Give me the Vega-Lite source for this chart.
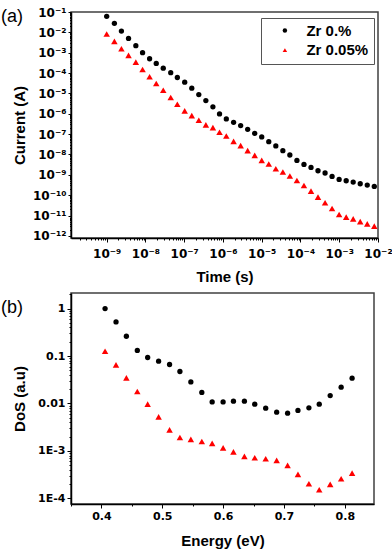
{
 "$schema": "https://vega.github.io/schema/vega-lite/v6.json",
 "padding": {"left": 0, "top": 5, "right": 0, "bottom": 0},
 "background": "white",
 "spacing": 2,
 "config": {
  "view": {"stroke": "#404040", "strokeWidth": 1.5},
  "axis": {"grid": false, "domainColor": "black", "domainWidth": 1.5, "tickColor": "black", "tickWidth": 1,
   "labelFont": "DejaVu Sans", "labelFontWeight": "bold", "labelFontSize": 11, "labelColor": "black",
   "titleFont": "Liberation Sans", "titleFontWeight": "bold", "titleFontSize": 15, "titleColor": "black",
   "labelOverlap": false, "labelFlush": false, "labelBound": false, "labelAngle": 0},
  "title": {"font": "Liberation Sans", "fontWeight": "normal", "fontSize": 18, "color": "black"}
 },
 "datasets": {
  "a": [
   {"t": 1.00e-9, "I": 6.14e-2, "series": "Zr 0.%"},
   {"t": 1.58e-9, "I": 2.77e-2, "series": "Zr 0.%"},
   {"t": 2.40e-9, "I": 1.16e-2, "series": "Zr 0.%"},
   {"t": 3.66e-9, "I": 5.06e-3, "series": "Zr 0.%"},
   {"t": 5.65e-9, "I": 2.21e-3, "series": "Zr 0.%"},
   {"t": 8.43e-9, "I": 1.00e-3, "series": "Zr 0.%"},
   {"t": 1.28e-8, "I": 5.06e-4, "series": "Zr 0.%"},
   {"t": 1.90e-8, "I": 2.97e-4, "series": "Zr 0.%"},
   {"t": 2.88e-8, "I": 1.74e-4, "series": "Zr 0.%"},
   {"t": 4.49e-8, "I": 1.04e-4, "series": "Zr 0.%"},
   {"t": 6.65e-8, "I": 6.07e-5, "series": "Zr 0.%"},
   {"t": 1.03e-7, "I": 3.56e-5, "series": "Zr 0.%"},
   {"t": 1.57e-7, "I": 1.80e-5, "series": "Zr 0.%"},
   {"t": 2.38e-7, "I": 8.83e-6, "series": "Zr 0.%"},
   {"t": 3.62e-7, "I": 4.47e-6, "series": "Zr 0.%"},
   {"t": 5.50e-7, "I": 2.19e-6, "series": "Zr 0.%"},
   {"t": 8.15e-7, "I": 9.89e-7, "series": "Zr 0.%"},
   {"t": 1.22e-6, "I": 5.61e-7, "series": "Zr 0.%"},
   {"t": 1.88e-6, "I": 3.81e-7, "series": "Zr 0.%"},
   {"t": 2.86e-6, "I": 2.62e-7, "series": "Zr 0.%"},
   {"t": 4.34e-6, "I": 1.72e-7, "series": "Zr 0.%"},
   {"t": 6.59e-6, "I": 1.09e-7, "series": "Zr 0.%"},
   {"t": 1.00e-5, "I": 7.28e-8, "series": "Zr 0.%"},
   {"t": 1.52e-5, "I": 4.28e-8, "series": "Zr 0.%"},
   {"t": 2.31e-5, "I": 2.62e-8, "series": "Zr 0.%"},
   {"t": 3.51e-5, "I": 1.54e-8, "series": "Zr 0.%"},
   {"t": 5.32e-5, "I": 9.44e-9, "series": "Zr 0.%"},
   {"t": 8.09e-5, "I": 5.12e-9, "series": "Zr 0.%"},
   {"t": 1.23e-4, "I": 3.25e-9, "series": "Zr 0.%"},
   {"t": 1.87e-4, "I": 2.32e-9, "series": "Zr 0.%"},
   {"t": 2.83e-4, "I": 1.59e-9, "series": "Zr 0.%"},
   {"t": 4.31e-4, "I": 1.23e-9, "series": "Zr 0.%"},
   {"t": 6.53e-4, "I": 8.34e-10, "series": "Zr 0.%"},
   {"t": 9.93e-4, "I": 5.93e-10, "series": "Zr 0.%"},
   {"t": 1.51e-3, "I": 5.12e-10, "series": "Zr 0.%"},
   {"t": 2.29e-3, "I": 4.42e-10, "series": "Zr 0.%"},
   {"t": 3.48e-3, "I": 3.65e-10, "series": "Zr 0.%"},
   {"t": 5.28e-3, "I": 3.15e-10, "series": "Zr 0.%"},
   {"t": 8.02e-3, "I": 2.69e-10, "series": "Zr 0.%"},
   {"t": 1.00e-9, "I": 8.24e-3, "series": "Zr 0.05%"},
   {"t": 1.58e-9, "I": 3.61e-3, "series": "Zr 0.05%"},
   {"t": 2.40e-9, "I": 1.57e-3, "series": "Zr 0.05%"},
   {"t": 3.66e-9, "I": 7.36e-4, "series": "Zr 0.05%"},
   {"t": 5.65e-9, "I": 3.44e-4, "series": "Zr 0.05%"},
   {"t": 8.43e-9, "I": 1.50e-4, "series": "Zr 0.05%"},
   {"t": 1.28e-8, "I": 6.58e-5, "series": "Zr 0.05%"},
   {"t": 1.90e-8, "I": 3.08e-5, "series": "Zr 0.05%"},
   {"t": 2.88e-8, "I": 1.44e-5, "series": "Zr 0.05%"},
   {"t": 4.49e-8, "I": 6.28e-6, "series": "Zr 0.05%"},
   {"t": 6.65e-8, "I": 2.94e-6, "series": "Zr 0.05%"},
   {"t": 1.03e-7, "I": 1.39e-6, "series": "Zr 0.05%"},
   {"t": 1.57e-7, "I": 8.15e-7, "series": "Zr 0.05%"},
   {"t": 2.38e-7, "I": 4.79e-7, "series": "Zr 0.05%"},
   {"t": 3.62e-7, "I": 2.84e-7, "series": "Zr 0.05%"},
   {"t": 5.50e-7, "I": 2.09e-7, "series": "Zr 0.05%"},
   {"t": 8.15e-7, "I": 1.23e-7, "series": "Zr 0.05%"},
   {"t": 1.22e-6, "I": 8.15e-8, "series": "Zr 0.05%"},
   {"t": 1.88e-6, "I": 4.42e-8, "series": "Zr 0.05%"},
   {"t": 2.86e-6, "I": 2.71e-8, "series": "Zr 0.05%"},
   {"t": 4.34e-6, "I": 1.54e-8, "series": "Zr 0.05%"},
   {"t": 6.59e-6, "I": 9.02e-9, "series": "Zr 0.05%"},
   {"t": 1.00e-5, "I": 5.12e-9, "series": "Zr 0.05%"},
   {"t": 1.52e-5, "I": 3.40e-9, "series": "Zr 0.05%"},
   {"t": 2.31e-5, "I": 2.00e-9, "series": "Zr 0.05%"},
   {"t": 3.51e-5, "I": 1.37e-9, "series": "Zr 0.05%"},
   {"t": 5.32e-5, "I": 8.73e-10, "series": "Zr 0.05%"},
   {"t": 8.09e-5, "I": 5.30e-10, "series": "Zr 0.05%"},
   {"t": 1.23e-4, "I": 3.01e-10, "series": "Zr 0.05%"},
   {"t": 1.87e-4, "I": 1.59e-10, "series": "Zr 0.05%"},
   {"t": 2.83e-4, "I": 8.05e-11, "series": "Zr 0.05%"},
   {"t": 4.31e-4, "I": 4.23e-11, "series": "Zr 0.05%"},
   {"t": 6.53e-4, "I": 2.21e-11, "series": "Zr 0.05%"},
   {"t": 9.93e-4, "I": 1.12e-11, "series": "Zr 0.05%"},
   {"t": 1.51e-3, "I": 8.34e-12, "series": "Zr 0.05%"},
   {"t": 2.29e-3, "I": 6.87e-12, "series": "Zr 0.05%"},
   {"t": 3.48e-3, "I": 5.06e-12, "series": "Zr 0.05%"},
   {"t": 5.28e-3, "I": 3.90e-12, "series": "Zr 0.05%"},
   {"t": 8.02e-3, "I": 3.01e-12, "series": "Zr 0.05%"}
  ],
  "b": [
   {"E": 0.406, "D": 1.0, "series": "Zr 0.%"},
   {"E": 0.424, "D": 0.522, "series": "Zr 0.%"},
   {"E": 0.441, "D": 0.261, "series": "Zr 0.%"},
   {"E": 0.459, "D": 0.131, "series": "Zr 0.%"},
   {"E": 0.476, "D": 0.093, "series": "Zr 0.%"},
   {"E": 0.494, "D": 0.0778, "series": "Zr 0.%"},
   {"E": 0.512, "D": 0.0662, "series": "Zr 0.%"},
   {"E": 0.529, "D": 0.0472, "series": "Zr 0.%"},
   {"E": 0.547, "D": 0.0285, "series": "Zr 0.%"},
   {"E": 0.565, "D": 0.0171, "series": "Zr 0.%"},
   {"E": 0.582, "D": 0.0108, "series": "Zr 0.%"},
   {"E": 0.600, "D": 0.0108, "series": "Zr 0.%"},
   {"E": 0.617, "D": 0.0112, "series": "Zr 0.%"},
   {"E": 0.635, "D": 0.0112, "series": "Zr 0.%"},
   {"E": 0.652, "D": 0.00966, "series": "Zr 0.%"},
   {"E": 0.670, "D": 0.00796, "series": "Zr 0.%"},
   {"E": 0.688, "D": 0.00656, "series": "Zr 0.%"},
   {"E": 0.706, "D": 0.00625, "series": "Zr 0.%"},
   {"E": 0.723, "D": 0.00713, "series": "Zr 0.%"},
   {"E": 0.741, "D": 0.00808, "series": "Zr 0.%"},
   {"E": 0.758, "D": 0.00966, "series": "Zr 0.%"},
   {"E": 0.776, "D": 0.0147, "series": "Zr 0.%"},
   {"E": 0.794, "D": 0.022, "series": "Zr 0.%"},
   {"E": 0.812, "D": 0.0341, "series": "Zr 0.%"},
   {"E": 0.406, "D": 0.126, "series": "Zr 0.05%"},
   {"E": 0.424, "D": 0.065, "series": "Zr 0.05%"},
   {"E": 0.441, "D": 0.0346, "series": "Zr 0.05%"},
   {"E": 0.459, "D": 0.0179, "series": "Zr 0.05%"},
   {"E": 0.476, "D": 0.00966, "series": "Zr 0.05%"},
   {"E": 0.494, "D": 0.00522, "series": "Zr 0.05%"},
   {"E": 0.512, "D": 0.00278, "series": "Zr 0.05%"},
   {"E": 0.529, "D": 0.00192, "series": "Zr 0.05%"},
   {"E": 0.547, "D": 0.00175, "series": "Zr 0.05%"},
   {"E": 0.565, "D": 0.00158, "series": "Zr 0.05%"},
   {"E": 0.582, "D": 0.00144, "series": "Zr 0.05%"},
   {"E": 0.600, "D": 0.00116, "series": "Zr 0.05%"},
   {"E": 0.617, "D": 0.000955, "series": "Zr 0.05%"},
   {"E": 0.635, "D": 0.000766, "series": "Zr 0.05%"},
   {"E": 0.652, "D": 0.000716, "series": "Zr 0.05%"},
   {"E": 0.670, "D": 0.000682, "series": "Zr 0.05%"},
   {"E": 0.688, "D": 0.000631, "series": "Zr 0.05%"},
   {"E": 0.706, "D": 0.000495, "series": "Zr 0.05%"},
   {"E": 0.723, "D": 0.00032, "series": "Zr 0.05%"},
   {"E": 0.741, "D": 0.000203, "series": "Zr 0.05%"},
   {"E": 0.758, "D": 0.000152, "series": "Zr 0.05%"},
   {"E": 0.776, "D": 0.000197, "series": "Zr 0.05%"},
   {"E": 0.794, "D": 0.000259, "series": "Zr 0.05%"},
   {"E": 0.812, "D": 0.000341, "series": "Zr 0.05%"}
  ]
 },
 "vconcat": [
  {
   "width": 307,
   "height": 226,
   "title": {"text": "(a)", "anchor": "start", "frame": "group", "dx": -70, "dy": 20, "offset": 0, "baseline": "top"},
   "data": {"name": "a"},
   "mark": {"type": "point", "filled": true, "opacity": 1},
   "encoding": {
    "x": {"field": "t", "type": "quantitative",
     "scale": {"type": "log", "domain": [1.2e-10, 0.01], "nice": false},
     "axis": {"title": "Time (s)", "titlePadding": 10, "labelPadding": 6, "labelFontSize": 12,
      "values": [2e-10,3e-10,4e-10,5e-10,6e-10,7e-10,8e-10,9e-10,1e-9,2e-9,3e-9,4e-9,5e-9,6e-9,7e-9,8e-9,9e-9,1e-8,2e-8,3e-8,4e-8,5e-8,6e-8,7e-8,8e-8,9e-8,1e-7,2e-7,3e-7,4e-7,5e-7,6e-7,7e-7,8e-7,9e-7,1e-6,2e-6,3e-6,4e-6,5e-6,6e-6,7e-6,8e-6,9e-6,1e-5,2e-5,3e-5,4e-5,5e-5,6e-5,7e-5,8e-5,9e-5,1e-4,2e-4,3e-4,4e-4,5e-4,6e-4,7e-4,8e-4,9e-4,1e-3,2e-3,3e-3,4e-3,5e-3,6e-3,7e-3,8e-3,9e-3,1e-2],
      "tickSize": {"condition": {"test": "abs(log(datum.value)/LN10 - round(log(datum.value)/LN10)) < 0.01", "value": 4}, "value": 2},
      "labelExpr": "abs(log(datum.value)/LN10 - round(log(datum.value)/LN10)) > 0.01 ? '' : '10⁻' + (-round(log(datum.value)/LN10) >= 10 ? '¹' : '') + ['⁰','¹','²','³','⁴','⁵','⁶','⁷','⁸','⁹'][(-round(log(datum.value)/LN10)) % 10]"}},
    "y": {"field": "I", "type": "quantitative",
     "scale": {"type": "log", "domain": [7.9e-13, 0.1], "nice": false},
     "axis": {"title": "Current (A)", "titlePadding": 6, "labelPadding": 2, "minExtent": 38, "maxExtent": 38, "labelFontSize": 12,
      "values": [1e-12,2e-12,3e-12,4e-12,5e-12,6e-12,7e-12,8e-12,9e-12,1e-11,2e-11,3e-11,4e-11,5e-11,6e-11,7e-11,8e-11,9e-11,1e-10,2e-10,3e-10,4e-10,5e-10,6e-10,7e-10,8e-10,9e-10,1e-9,2e-9,3e-9,4e-9,5e-9,6e-9,7e-9,8e-9,9e-9,1e-8,2e-8,3e-8,4e-8,5e-8,6e-8,7e-8,8e-8,9e-8,1e-7,2e-7,3e-7,4e-7,5e-7,6e-7,7e-7,8e-7,9e-7,1e-6,2e-6,3e-6,4e-6,5e-6,6e-6,7e-6,8e-6,9e-6,1e-5,2e-5,3e-5,4e-5,5e-5,6e-5,7e-5,8e-5,9e-5,1e-4,2e-4,3e-4,4e-4,5e-4,6e-4,7e-4,8e-4,9e-4,1e-3,2e-3,3e-3,4e-3,5e-3,6e-3,7e-3,8e-3,9e-3,1e-2,2e-2,3e-2,4e-2,5e-2,6e-2,7e-2,8e-2,9e-2,1e-1],
      "tickSize": {"condition": {"test": "abs(log(datum.value)/LN10 - round(log(datum.value)/LN10)) < 0.01", "value": 3}, "value": 1.5},
      "labelExpr": "abs(log(datum.value)/LN10 - round(log(datum.value)/LN10)) > 0.01 ? '' : '10⁻' + (-round(log(datum.value)/LN10) >= 10 ? '¹' : '') + ['⁰','¹','²','³','⁴','⁵','⁶','⁷','⁸','⁹'][(-round(log(datum.value)/LN10)) % 10]"}},
    "color": {"field": "series", "type": "nominal",
     "scale": {"domain": ["Zr 0.%", "Zr 0.05%"], "range": ["#000000", "#ff0000"]},
     "legend": {"title": null, "orient": "none", "legendX": 190, "legendY": 6, "padding": 5, "strokeColor": "#555555", "fillColor": "white", "symbolSize": 20, "symbolOffset": 11.4, "labelOffset": 14, "labelFontSize": 15, "labelFont": "Liberation Sans", "labelFontWeight": "bold", "labelColor": "black", "rowPadding": 3.6}},
    "shape": {"field": "series", "type": "nominal",
     "scale": {"domain": ["Zr 0.%", "Zr 0.05%"], "range": ["circle", "triangle-up"]},
     "legend": {"title": null, "orient": "none", "legendX": 190, "legendY": 6, "padding": 5, "strokeColor": "#555555", "fillColor": "white", "symbolSize": 20, "symbolOffset": 11.4, "labelOffset": 14, "labelFontSize": 15, "labelFont": "Liberation Sans", "labelFontWeight": "bold", "labelColor": "black", "rowPadding": 3.6}},
    "size": {"condition": {"test": "datum.series === 'Zr 0.%'", "value": 28}, "value": 42}
   }
  },
  {
   "width": 303,
   "height": 211,
   "title": {"text": "(b)", "anchor": "start", "frame": "group", "dx": -70, "dy": 29, "offset": 0, "baseline": "top"},
   "data": {"name": "b"},
   "mark": {"type": "point", "filled": true, "opacity": 1},
   "encoding": {
    "x": {"field": "E", "type": "quantitative",
     "scale": {"domain": [0.35, 0.848], "nice": false, "zero": false},
     "axis": {"title": "Energy (eV)", "titlePadding": 12, "labelPadding": 2,
      "values": [0.35,0.4,0.45,0.5,0.55,0.6,0.65,0.7,0.75,0.8],
      "tickSize": {"condition": {"test": "abs(datum.value*10 - round(datum.value*10)) < 0.01", "value": 4}, "value": 2},
      "labelExpr": "abs(datum.value*10 - round(datum.value*10)) > 0.01 ? '' : format(datum.value, '.1f')"}},
    "y": {"field": "D", "type": "quantitative",
     "scale": {"type": "log", "domain": [7.6e-5, 2.13], "nice": false},
     "axis": {"title": "DoS (a.u)", "titlePadding": 6, "labelPadding": 2, "minExtent": 38, "maxExtent": 38,
      "values": [1e-4,2e-4,3e-4,4e-4,5e-4,6e-4,7e-4,8e-4,9e-4,1e-3,2e-3,3e-3,4e-3,5e-3,6e-3,7e-3,8e-3,9e-3,1e-2,2e-2,3e-2,4e-2,5e-2,6e-2,7e-2,8e-2,9e-2,0.1,0.2,0.3,0.4,0.5,0.6,0.7,0.8,0.9,1,2],
      "tickSize": {"condition": {"test": "abs(log(datum.value)/LN10 - round(log(datum.value)/LN10)) < 0.01", "value": 4}, "value": 2},
      "labelExpr": "abs(log(datum.value)/LN10 - round(log(datum.value)/LN10)) > 0.01 ? '' : round(log(datum.value)/LN10) == 0 ? '1' : round(log(datum.value)/LN10) == -1 ? '0.1' : round(log(datum.value)/LN10) == -2 ? '0.01' : '1E' + round(log(datum.value)/LN10)"}},
    "color": {"field": "series", "type": "nominal",
     "scale": {"domain": ["Zr 0.%", "Zr 0.05%"], "range": ["#000000", "#ff0000"]},
     "legend": {"title": null, "orient": "none", "legendX": 196, "legendY": 8, "padding": 4, "strokeColor": "#555555", "fillColor": "white", "symbolSize": 20, "symbolOffset": 10, "labelOffset": 13, "labelFontSize": 15, "labelFont": "Liberation Sans", "labelFontWeight": "bold", "labelColor": "black", "rowPadding": 2.7}},
    "shape": {"field": "series", "type": "nominal",
     "scale": {"domain": ["Zr 0.%", "Zr 0.05%"], "range": ["circle", "triangle-up"]},
     "legend": {"title": null, "orient": "none", "legendX": 196, "legendY": 8, "padding": 4, "strokeColor": "#555555", "fillColor": "white", "symbolSize": 20, "symbolOffset": 10, "labelOffset": 13, "labelFontSize": 15, "labelFont": "Liberation Sans", "labelFontWeight": "bold", "labelColor": "black", "rowPadding": 2.7}},
    "size": {"condition": {"test": "datum.series === 'Zr 0.%'", "value": 28}, "value": 42}
   }
  }
 ]
}
